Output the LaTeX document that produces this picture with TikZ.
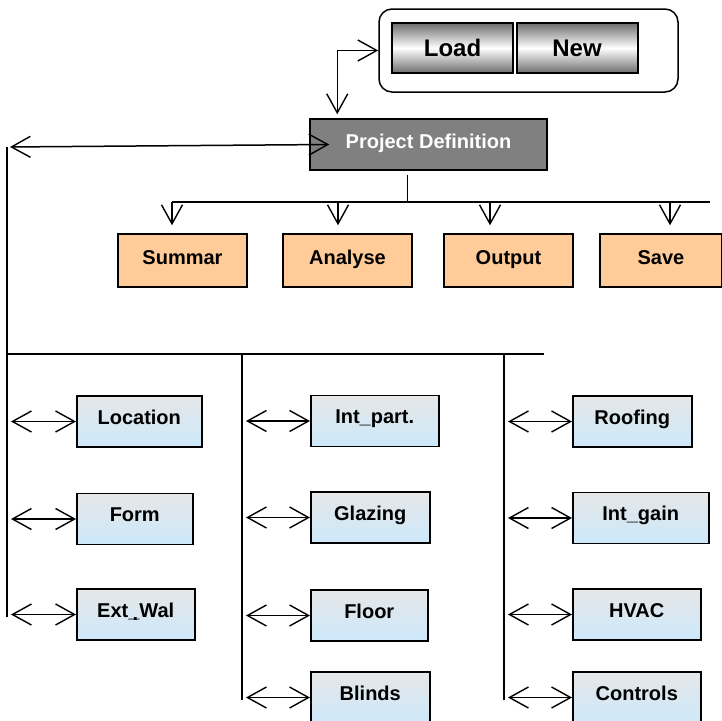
\documentclass[tikz,border=0pt]{standalone}
\usepackage{fontspec}
\setmainfont{Liberation Sans}
\usepackage{tikz}
\usetikzlibrary{arrows.meta, positioning}
\usepackage{xcolor}
\definecolor{partgrey}{HTML}{E6E7E8}
\definecolor{partblue}{HTML}{CCE8FA}
\definecolor{actionorange}{HTML}{FFCC99}
\definecolor{projgrey}{HTML}{808080}
\definecolor{buttongrey}{HTML}{6E6E6E}

\begin{document}
\begin{tikzpicture}[x=1pt,y=-1pt,line width=1.5pt,
    >={Straight Barb[length=19pt,width=21pt,line width=1.4pt]}]
  \tikzstyle{part}=[draw, anchor=west, minimum height=51pt, inner sep=0pt,
    top color=partgrey, bottom color=partblue,
    font=\bfseries\fontsize{20}{22}\selectfont, text height=14pt, text depth=9pt]
  \tikzstyle{action}=[draw, fill=actionorange, minimum width=129pt, minimum height=53pt,
    inner sep=0pt, font=\bfseries\fontsize{20}{22}\selectfont, text height=14pt, text depth=6pt]
  \tikzstyle{button}=[draw, line width=2pt, minimum width=121pt, minimum height=50pt,
    inner sep=0pt, top color=buttongrey, bottom color=buttongrey, middle color=white,
    font=\bfseries\fontsize{24}{26}\selectfont]

  \useasboundingbox (0,0) rectangle (722,720);

  % top menu
  \node[draw, rounded corners=13pt, minimum width=299pt, minimum height=83pt] (menubox) at (528.5,50.5) {};
  \node[button] (load) at (452.5,48) {Load};
  \node[button] (new)  at (577,48)   {New};

  \node[draw, fill=projgrey, text=white, minimum width=237pt, minimum height=51pt, inner sep=0pt,
    font=\bfseries\fontsize{20}{22}\selectfont, text height=14pt, text depth=6pt]
    (proj) at (428.5,144.5) {Project Definition};

  % actions
  \node[action] (summar)  at (182.5,260.5) {Summar};
  \node[action] (analyse) at (347.5,260.5) {Analyse};
  \node[action] (output)  at (508.5,260.5) {Output};
  \node[action, minimum width=122pt] (save) at (661,260.5) {Save};

  % building parts
  \node[part, minimum width=125pt] (location) at (76,421.5) {Location};
  \node[part, minimum width=116pt] (form)     at (76,519)   {Form};
  \node[part, minimum width=118pt] (extwal)   at (76,614.5)
    {Ext\_Wal\llap{\makebox[78pt]{\raisebox{-3pt}{.}}}};

  \node[part, minimum width=128pt] (intpart)  at (310,421)   {Int\_part.};
  \node[part, minimum width=119pt] (glazing)  at (310,517.5) {Glazing};
  \node[part, minimum width=117pt] (floor)    at (310,615.5) {Floor};
  \node[part, minimum width=119pt] (blinds)   at (310,697.5) {Blinds};

  \node[part, minimum width=119pt] (roofing)  at (572,421.5) {Roofing};
  \node[part, minimum width=136pt] (intgain)  at (572,518)   {Int\_gain};
  \node[part, minimum width=128pt] (hvac)     at (572,614.5) {HVAC};
  \node[part, minimum width=128pt] (controls) at (572,697.5) {Controls};

  % bus lines
  \coordinate (lefttop)   at (7,147);
  \coordinate (leftend)   at (7,617);
  \coordinate (busstart)  at (7,354);
  \coordinate (busend)    at (544,354);
  \coordinate (midtop)    at (242,354);
  \coordinate (midend)    at (242,700);
  \coordinate (righttop)  at (504,354);
  \coordinate (rightend)  at (504,700);
  \coordinate (actstart)  at (172,202);
  \coordinate (actend)    at (710,202);

  \draw (lefttop) -- (leftend);
  \draw (busstart) -- (busend);
  \draw (midtop) -- (midend);
  \draw (righttop) -- (rightend);
  \draw (actstart) -- (actend);
  \draw ([xshift=-21pt,yshift=-4pt]proj.south) -- ++(0,28);

  % connectors
  \draw[<->, shorten <=4pt] ([xshift=28pt]proj.north west) |- (menubox.west);
  \draw[<->, shorten <=3pt] (lefttop) -- ([xshift=20pt]proj.west);

  \foreach \n/\dx in {summar/-10.5, analyse/-9.5, output/-18.5, save/9}
    \draw[->] ([xshift=\dx pt]\n.north |- actstart) -- ([xshift=\dx pt, yshift=8pt]\n.north);

  \foreach \n in {location, form, extwal}
    \draw[<->, shorten <=4pt] (\n.west -| lefttop) -- (\n.west);
  \foreach \n in {intpart, glazing, floor, blinds}
    \draw[<->, shorten <=4pt] (\n.west -| midtop) -- (\n.west);
  \foreach \n in {roofing, intgain, hvac, controls}
    \draw[<->, shorten <=4pt] (\n.west -| righttop) -- (\n.west);
\end{tikzpicture}
\end{document}
